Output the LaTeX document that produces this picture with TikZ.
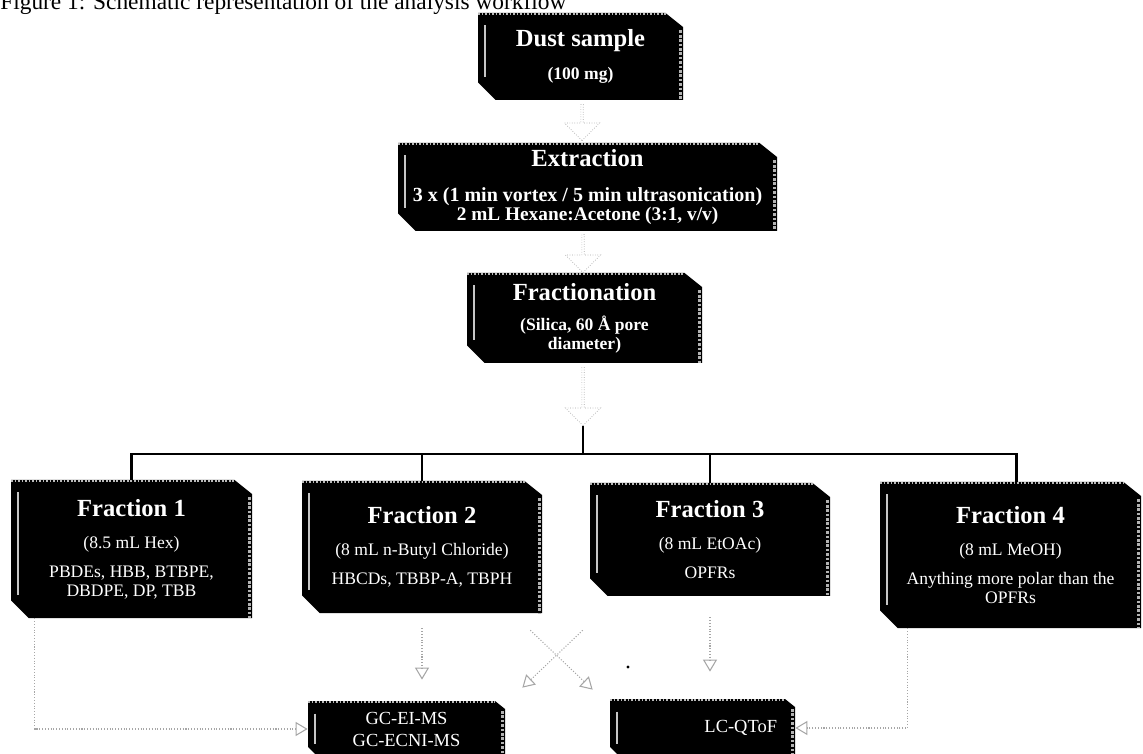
\documentclass[tikz,border=0pt]{standalone}
\usepackage{fontspec}
\setmainfont{Liberation Serif}
\usepackage{tikz}
\usetikzlibrary{arrows.meta,shapes.arrows}

\newcommand{\bigtxt}{\fontsize{14}{14}\selectfont\bfseries}

\begin{document}
\begin{tikzpicture}[
	slab/.style={rectangle, inner sep=0pt, text=white, align=center, font=\fontsize{10}{10.5}\selectfont,
		path picture={
			\fill[black] (path picture bounding box.north west)
				-- ([xshift=-#1]path picture bounding box.north east)
				-- ([yshift=-0.8*#1]path picture bounding box.north east)
				-- (path picture bounding box.south east)
				-- ([xshift=#1]path picture bounding box.south west)
				-- ([yshift=#1]path picture bounding box.south west) -- cycle;
			\draw[gray!55, line width=1pt, densely dotted]
				([yshift=-0.6pt]path picture bounding box.north west)
				-- ([xshift=-#1, yshift=-0.6pt]path picture bounding box.north east);
			\draw[gray!45, line width=1.5pt]
				([xshift=0.14cm, yshift=-0.25cm]path picture bounding box.north west)
				-- ([xshift=0.14cm, yshift=1.3*#1]path picture bounding box.south west);
			\draw[gray!60, line width=1.5pt, densely dotted]
				([xshift=-0.05cm, yshift=-#1]path picture bounding box.north east)
				-- ([xshift=-0.05cm]path picture bounding box.south east);
		}},
	slab/.default=0.35cm,
	blockarrow/.style={single arrow, shape border rotate=270, draw=gray!70, densely dotted, fill=white,
		inner sep=0pt, minimum width=0.7cm, single arrow head extend=0.1cm},
	trunk/.style={line width=1.2pt},
	feed/.style={draw=gray!70, densely dotted, line width=0.6pt, ->, >={Triangle[open, length=2.4mm, width=2.8mm]}}
	]
	\useasboundingbox (0,0) rectangle (22.86,-15.08);

	\node[anchor=base west, inner sep=0pt, font=\fontsize{13.3}{13.3}\selectfont] (caption) at (0,-0.19) {Figure 1: Schematic representation of the analysis workflow};

	% upper chain
	\node[slab, minimum width=4.10cm, minimum height=1.74cm, font=\fontsize{10}{10.5}\selectfont\bfseries] (dust) at (11.61,-1.13) {{\bigtxt Dust sample}\\[8pt](100 mg)};
	\node[slab, minimum width=7.58cm, minimum height=1.76cm, font=\fontsize{11.4}{11}\selectfont\bfseries] (extr) at (11.75,-3.74) {{\bigtxt Extraction}\\[9pt]3 x (1 min vortex / 5 min ultrasonication)\\{\fontsize{11}{11}\selectfont 2 mL Hexane:Acetone (3:1, v/v)}};
	\node[slab, minimum width=4.70cm, minimum height=1.80cm, font=\fontsize{10}{10.5}\selectfont\bfseries] (frac) at (11.69,-6.36) {{\bigtxt Fractionation}\\[7pt](Silica, 60 Å pore\\diameter)};

	\node[blockarrow, minimum height=0.72cm] (a1) at (11.64,-2.44) {};
	\node[blockarrow, minimum height=0.76cm] (a2) at (11.66,-5.06) {};
	\node[blockarrow, minimum height=1.16cm] (a3) at (11.66,-7.92) {};

	% fractions
	\node[slab, minimum width=4.82cm, minimum height=2.76cm] (f1) at (2.63,-10.98) {{\bigtxt Fraction 1}\\[8pt](8.5 mL Hex)\\[6pt]PBDEs, HBB, BTBPE,\\DBDPE, DP, TBB};
	\node[slab, minimum width=4.80cm, minimum height=2.64cm] (f2) at (8.44,-10.94) {{\bigtxt Fraction 2}\\[8pt](8 mL n-Butyl Chloride)\\[6pt]HBCDs, TBBP-A, TBPH};
	\node[slab, minimum width=4.80cm, minimum height=2.26cm] (f3) at (14.20,-10.79) {{\bigtxt Fraction 3}\\[8pt](8 mL EtOAc)\\[6pt]OPFRs};
	\node[slab, minimum width=5.22cm, minimum height=2.92cm] (f4) at (20.21,-11.10) {{\bigtxt Fraction 4}\\[8pt](8 mL MeOH)\\[6pt]Anything more polar than the\\OPFRs};

	% instruments
	\node[slab=0.2cm, minimum width=3.94cm, minimum height=1.12cm, font=\fontsize{10.5}{12.5}\selectfont] (gc) at (8.13,-14.58) {GC-EI-MS\\GC-ECNI-MS};
	\node[slab=0.2cm, minimum width=3.70cm, minimum height=1.16cm, text width=2.98cm, align=right, font=\fontsize{10.5}{12.5}\selectfont] (lc) at (14.05,-14.56) {LC-QToF};

	\coordinate (split) at (11.66,-9.08);
	\draw[trunk] (a3.tip) -- (split);
	\draw[trunk] (split) -| (f1.north);
	\draw[trunk] (split) -| (f2.north);
	\draw[trunk] (split) -| (f3.north);
	\draw[trunk] (split) -| ([xshift=0.12cm]f4.north);

	\draw[feed] ([xshift=0.48cm]f1.south west) |- (gc.west);
	\draw[feed] ([xshift=0.56cm]f4.south west) |- (lc.east);
	\draw[feed, shorten <=0.3cm, shorten >=0.42cm] (f2.south) -- (f2.south |- gc.north);
	\draw[feed, shorten <=0.42cm, shorten >=0.54cm] (f3.south) -- (f3.south |- lc.north);
	\draw[feed] ([xshift=-0.24cm, yshift=-0.34cm]f2.south east) -- ([xshift=-0.34cm, yshift=0.18cm]lc.north west);
	\draw[feed] ([xshift=-0.14cm, yshift=-0.68cm]f3.south west) -- ([xshift=0.34cm, yshift=0.26cm]gc.north east);
	\fill (12.56,-13.34) circle (0.9pt);
\end{tikzpicture}
\end{document}
